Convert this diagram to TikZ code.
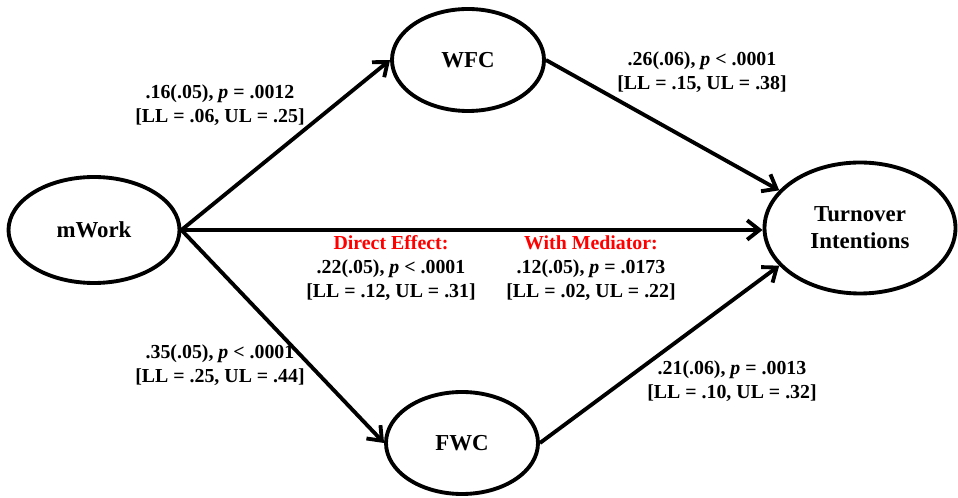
\documentclass[tikz,border=0pt]{standalone}
\usepackage{fontspec}
\setmainfont{Liberation Serif}
\usepackage{tikz}
\usetikzlibrary{shapes.geometric, arrows.meta}

\begin{document}
\begin{tikzpicture}[
	var/.style={draw, ellipse, line width=2.2pt, inner sep=0pt, align=center, font=\fontsize{13}{15.5}\selectfont\bfseries},
	path/.style={line width=2.2pt, -{Straight Barb[length=7pt, width=11pt]}},
	coef/.style={align=center, font=\fontsize{11.3}{13.6}\selectfont\bfseries}
	]

	\useasboundingbox (0, 0) rectangle (19.16, 9.96);

	\node [var, minimum width=3.42cm, minimum height=2.12cm] (mw) at (1.88, 5.36) {mWork};
	\node [var, minimum width=3.04cm, minimum height=2.04cm] (wfc) at (9.36, 8.76) {WFC};
	\node [var, minimum width=3.04cm, minimum height=2.04cm] (fwc) at (9.24, 1.1) {FWC};
	\node [var, minimum width=3.82cm, minimum height=2.62cm] (tn) at (17.2, 5.4) {Turnover\\Intentions};

	\draw [path] (mw.east) -- (wfc.west);
	\draw [path] (mw.east) -- (fwc.west);
	\draw [path] (mw.east) -- (mw.east -| tn.west);
	\draw [path] (wfc.east) -- (tn.155);
	\draw [path] (fwc.east) -- (tn.205);

	% path coefficients
	\node [coef] (a1) at (4.40, 7.86) {.16(.05), \textit{p} = .0012\\{}[LL = .06, UL = .25]};
	\node [coef] (a2) at (4.40, 2.66) {.35(.05), \textit{p} < .0001\\{}[LL = .25, UL = .44]};
	\node [coef] (b1) at (14.04, 8.52) {.26(.06), \textit{p} < .0001\\{}[LL = .15, UL = .38]};
	\node [coef] (b2) at (14.64, 2.34) {.21(.06), \textit{p} = .0013\\{}[LL = .10, UL = .32]};
	\node [coef] (c) at (7.82, 4.6) {\textcolor{red}{Direct Effect:}\\.22(.05), \textit{p} < .0001\\{}[LL = .12, UL = .31]};
	\node [coef] (cp) at (11.82, 4.6) {\textcolor{red}{With Mediator:}\\.12(.05), \textit{p} = .0173\\{}[LL = .02, UL = .22]};

\end{tikzpicture}
\end{document}
